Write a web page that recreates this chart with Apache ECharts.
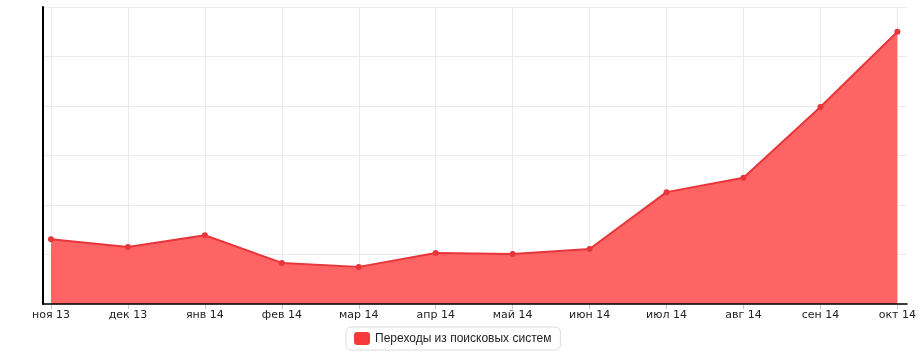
<!DOCTYPE html>
<html>
<head>
<meta charset="utf-8">
<script src="https://cdn.jsdelivr.net/npm/echarts@6/dist/echarts.min.js"></script>
<style>
html,body{margin:0;padding:0;background:#fff;}
#chart{width:919px;height:356px;}
</style>
</head>
<body>
<div id="chart"></div>
<script>
var categories = ['ноя 13','дек 13','янв 14','фев 14','мар 14','апр 14','май 14','июн 14','июл 14','авг 14','сен 14','окт 14'];
var seriesName = 'Переходы из поисковых систем';
var values = [131, 115, 139, 83, 75, 103, 101, 111, 226, 255, 398, 550];
var yMin = 0, yMax = 600, yStep = 100;

var chart = echarts.init(document.getElementById('chart'), null, {renderer: 'canvas'});
var font = 'Verdana, "DejaVu Sans", sans-serif';
chart.setOption({
  animation: false,
  grid: [
    {left: 51, right: 21, top: 7, bottom: 52},
    {left: 43, right: 12, top: 7, bottom: 52}
  ],
  xAxis: [
    {
      gridIndex: 0, type: 'category', data: categories, boundaryGap: false,
      axisLine: {show: false},
      axisTick: {show: true, length: 5, lineStyle: {color: '#c8c8c8'}},
      splitLine: {show: true, lineStyle: {color: '#ebebeb', width: 1}},
      axisLabel: {color: '#222', fontFamily: font, fontSize: 11, margin: 6}
    },
    {
      gridIndex: 1, type: 'value', min: 0, max: 1, z: 10,
      axisLine: {show: true, onZero: false, lineStyle: {color: '#000', width: 1.5}},
      axisTick: {show: false}, axisLabel: {show: false}, splitLine: {show: false}
    }
  ],
  yAxis: [
    {
      gridIndex: 0, type: 'value', min: yMin, max: yMax, interval: yStep,
      axisLine: {show: false}, axisTick: {show: false}, axisLabel: {show: false}, splitLine: {show: false}
    },
    {
      gridIndex: 1, type: 'value', min: yMin, max: yMax, interval: yStep, z: 0,
      axisLine: {show: true, lineStyle: {color: '#000', width: 2}},
      axisTick: {show: false}, axisLabel: {show: false},
      splitLine: {show: true, lineStyle: {color: '#ebebeb', width: 1}}
    }
  ],
  legend: {
    left: 346, top: 327,
    itemWidth: 16, itemHeight: 13, itemGap: 7,
    padding: [5, 9, 5, 8],
    borderColor: '#dcdcdc', borderWidth: 1, borderRadius: 5,
    textStyle: {color: '#222', fontFamily: '"Liberation Sans", Arial, sans-serif', fontSize: 12},
    data: [{name: seriesName, icon: 'roundRect', itemStyle: {color: '#f63a3a'}}]
  },
  series: [{
    name: seriesName, type: 'line', xAxisIndex: 0, yAxisIndex: 0,
    data: values,
    symbol: 'circle', symbolSize: 6, showSymbol: true,
    itemStyle: {color: '#e8353a'},
    lineStyle: {color: '#e8353a', width: 2},
    areaStyle: {color: '#ff5f5f', opacity: 0.97}
  }]
});
</script>
</body>
</html>
